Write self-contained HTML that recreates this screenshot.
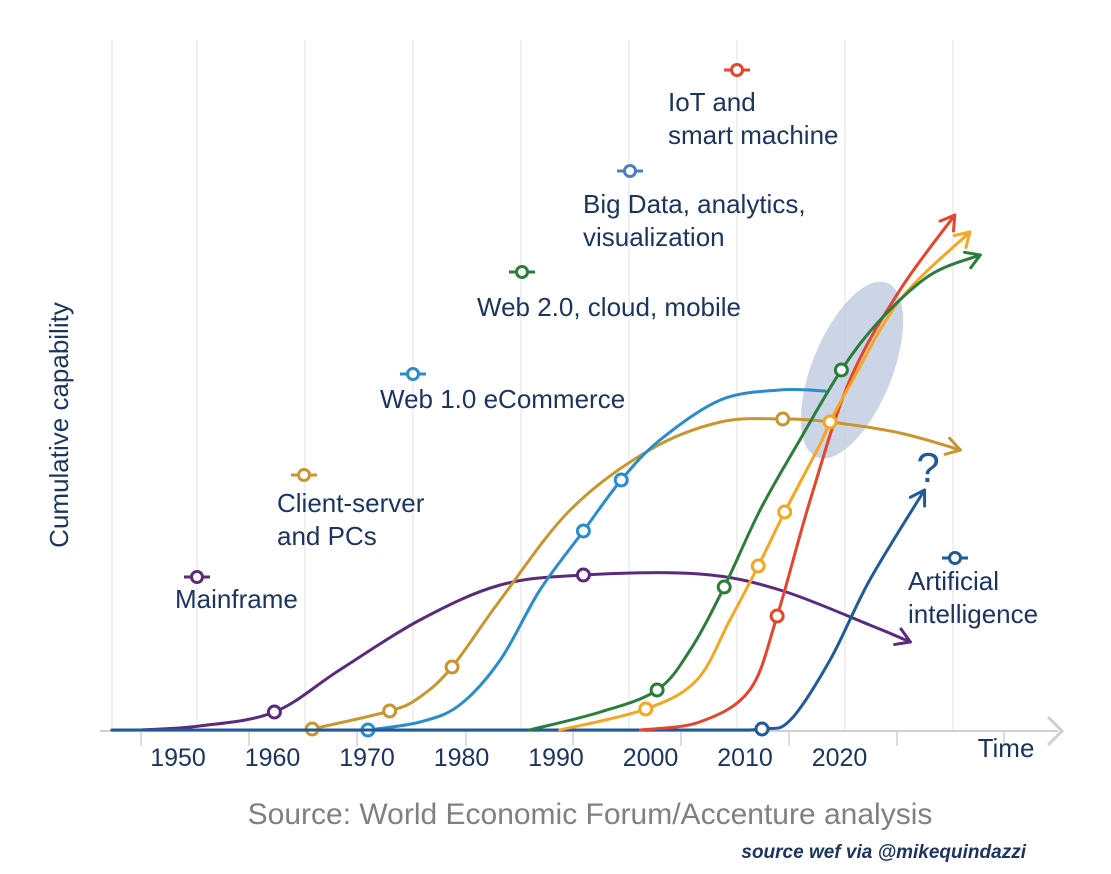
<!DOCTYPE html>
<html><head><meta charset="utf-8"><style>
body{margin:0;background:#fff;}
svg{display:block;font-family:"Liberation Sans",sans-serif;}
</style></head><body>
<svg id="chart" width="1111" height="874" viewBox="0 0 1111 874">
<g id="grid"></g>
<ellipse cx="852" cy="370" rx="40" ry="94" transform="rotate(22 852 370)" fill="#c3cee2" opacity="0.85"/>
<line x1="100" y1="731" x2="1058" y2="731" stroke="#cfcfcf" stroke-width="2"/>
<polyline points="1048,717 1062,731 1048,745" fill="none" stroke="#cfcfcf" stroke-width="3"/>
<g id="ticks"></g>
<g id="series"></g>
<g id="labels"></g>
<g fill="#1c3560" font-size="26">
<text x="1006" y="757" text-anchor="middle">Time</text>
<text transform="translate(68,425) rotate(-90)" text-anchor="middle" font-size="26">Cumulative capability</text>
<text x="175" y="608">Mainframe</text>
<text x="277" y="512"><tspan x="277">Client-server</tspan><tspan x="277" dy="33">and PCs</tspan></text>
<text x="380" y="408">Web 1.0 eCommerce</text>
<text x="477" y="316">Web 2.0, cloud, mobile</text>
<text x="583" y="213"><tspan x="583">Big Data, analytics,</tspan><tspan x="583" dy="33">visualization</tspan></text>
<text x="668" y="111"><tspan x="668">IoT and</tspan><tspan x="668" dy="33">smart machine</tspan></text>
<text x="908" y="590"><tspan x="908">Artificial</tspan><tspan x="908" dy="33">intelligence</tspan></text>
<text x="928" y="482" font-size="42" text-anchor="middle" fill="#1f5a9a">?</text>
</g>
<text x="590" y="824" text-anchor="middle" font-size="30" fill="#808080">Source: World Economic Forum/Accenture analysis</text>
<text x="1026" y="858" text-anchor="end" font-size="19" font-weight="bold" font-style="italic" fill="#1c3560">source wef via @mikequindazzi</text>
<g id="legend"></g>
</svg>
<script>
const yearLabels=[1950,1960,1970,1980,1990,2000,2010,2020];
const mainframeYears=[1946,1952.3,1960.2,1967.1,1975.6,1984.1,1992.9,2005.2,2013.7,2023.2,2027.5];
const mainframeVals=[0,0.8,3.6,12,22,29,31,31.2,28,21,17.6];
const mainframeMarks=[1960.2,1992.9];
const clientYears=[1964.2,1972.4,1975.6,1979.0,1984.1,1991.5,1999.9,2007.4,2014.0,2019.0,2026.4,2032.8];
const clientVals=[0.2,3.8,6.6,12.6,26,44,56,61.6,62.2,61.6,59.4,56];
const clientMarks=[1964.2,1972.4,1979.0,2014.0];
const web1Years=[1970.1,1975.6,1979.8,1984.1,1988.3,1992.9,1996.9,2001.0,2007.4,2013.7,2018.5];
const web1Vals=[0,1.6,5,14,28,39.8,50,58,66,68,67.8];
const web1Marks=[1970.1,1992.9,1996.9];
const web2Years=[1987.2,1994.7,2000.7,2004.2,2007.8,2011.6,2015.8,2020.2,2024.3,2029.6,2034.9];
const web2Vals=[0,3.6,8,16,28.6,44,58,72,82,91,95];
const web2Marks=[2000.7,2007.8,2020.2];
const bigYears=[1990.4,1999.5,2004.9,2008.4,2011.4,2014.2,2017.9,2019.0,2021.1,2026.4,2033.8];
const bigVals=[0,4.2,10,22,32.8,43.6,57,61.6,69,86,99.6];
const bigMarks=[1999.5,2011.4,2014.2,2019.0];
const iotYears=[1998.9,2005.2,2010.5,2013.4,2016.9,2021.1,2026.4,2032.2];
const iotVals=[0,1.6,8,22.8,46,70,88,103];
const iotMarks=[2013.4];
const aiYears=[1943,1980,2005,2011.8,2014.8,2019.0,2023.2,2029.0];
const aiVals=[0,0,0,0.2,2,14,30,48];
const aiMarks=[2011.8];

const NS="http://www.w3.org/2000/svg";
function X(yr){return 178+(yr-1950)*9.45;}
function Y(v){return 730-v*5;}
function mk(tag,attrs,parent){const e=document.createElementNS(NS,tag);for(const k in attrs)e.setAttribute(k,attrs[k]);parent.appendChild(e);return e;}
const grid=document.getElementById('grid');
[112,197,305,413,521,629,737,845,953].forEach(x=>{
 const l=mk('line',{x1:x,y1:40,x2:x,y2:731,stroke:'#ececec','stroke-width':1.5},grid);
 
 
});
const ticks=document.getElementById('ticks');
[141,249,357,466,573,681,789,897,1004].forEach(x=>{
 const l=mk('line',{x1:x,y1:731,x2:x,y2:746,stroke:'#d0d0d0','stroke-width':1.5},ticks);
 
 
});
const labels=document.getElementById('labels');
yearLabels.forEach(yr=>{
 const t=mk('text',{x:X(yr),y:766,'text-anchor':'middle','font-size':25,fill:'#1c3560'},labels);
 t.textContent=yr;
 
 
});
function path(pts){
 let d='M'+pts[0][0]+','+pts[0][1];
 for(let i=0;i<pts.length-1;i++){
  const p0=pts[i-1]||pts[i],p1=pts[i],p2=pts[i+1],p3=pts[i+2]||p2;
  const c1=[p1[0]+(p2[0]-p0[0])/6,p1[1]+(p2[1]-p0[1])/6];
  const c2=[p2[0]-(p3[0]-p1[0])/6,p2[1]-(p3[1]-p1[1])/6];
  d+=' C'+c1+' '+c2+' '+p2;
 }
 return d;
}
function interp(xs,vs,yr){
 for(let i=0;i<xs.length-1;i++){if(yr>=xs[i]&&yr<=xs[i+1]){const t=(yr-xs[i])/(xs[i+1]-xs[i]);return vs[i]+t*(vs[i+1]-vs[i]);}}
 return vs[vs.length-1];
}
const sg=document.getElementById('series');
const series=[
 ['mainframe',mainframeYears,mainframeVals,mainframeMarks,'#5b2a7e',true],
 ['client-server',clientYears,clientVals,clientMarks,'#c8962e',true],
 ['web1',web1Years,web1Vals,web1Marks,'#2a8ccc',false],
 ['ai',aiYears,aiVals,aiMarks,'#1f5a9a',true],
 ['iot',iotYears,iotVals,iotMarks,'#e8432b',true],
 ['big-data',bigYears,bigVals,bigMarks,'#f5a623',true],
 ['web2',web2Years,web2Vals,web2Marks,'#2a7d3a',true]
];
series.forEach(([name,xs,vs,marks,col,arrow])=>{
 const g=mk('g',{},sg);
 
 
 const pts=xs.map((x,i)=>[X(x),Y(vs[i])]);
 const p=mk('path',{d:path(pts),fill:'none',stroke:col,'stroke-width':3,'stroke-linecap':'round'},g);
 
 
 if(arrow){
  const a=pts[pts.length-1],b=pts[pts.length-2];
  const ang=Math.atan2(a[1]-b[1],a[0]-b[0]),L=16,s=0.55;
  const q1=[a[0]-L*Math.cos(ang-s),a[1]-L*Math.sin(ang-s)],q2=[a[0]-L*Math.cos(ang+s),a[1]-L*Math.sin(ang+s)];
  const ah=mk('polyline',{points:q1+' '+a+' '+q2,fill:'none',stroke:col,'stroke-width':3,'stroke-linecap':'round','stroke-linejoin':'round'},g);
  
  
 }
 marks.forEach(yr=>{
  const c=mk('circle',{cx:X(yr),cy:Y(interp(xs,vs,yr)),r:6,fill:'#fff',stroke:col,'stroke-width':3},g);
  
  
 });
});
const lg=document.getElementById('legend');
[[197,577,'#5b2a7e','mainframe'],[304,475,'#c8962e','client-server'],[413,374,'#2a8ccc','web1'],[522,272,'#2a7d3a','web2'],[630,171,'#4a7fc0','big-data'],[737,70,'#e8432b','iot'],[955,558,'#1f5a9a','ai']].forEach(([x,y,col,n])=>{
 const g=mk('g',{},lg);
 
 
 mk('line',{x1:x-13,y1:y,x2:x+13,y2:y,stroke:col,'stroke-width':3},g);
 mk('circle',{cx:x,cy:y,r:5.5,fill:'#fff',stroke:col,'stroke-width':3},g);
});
</script>
</body></html>
